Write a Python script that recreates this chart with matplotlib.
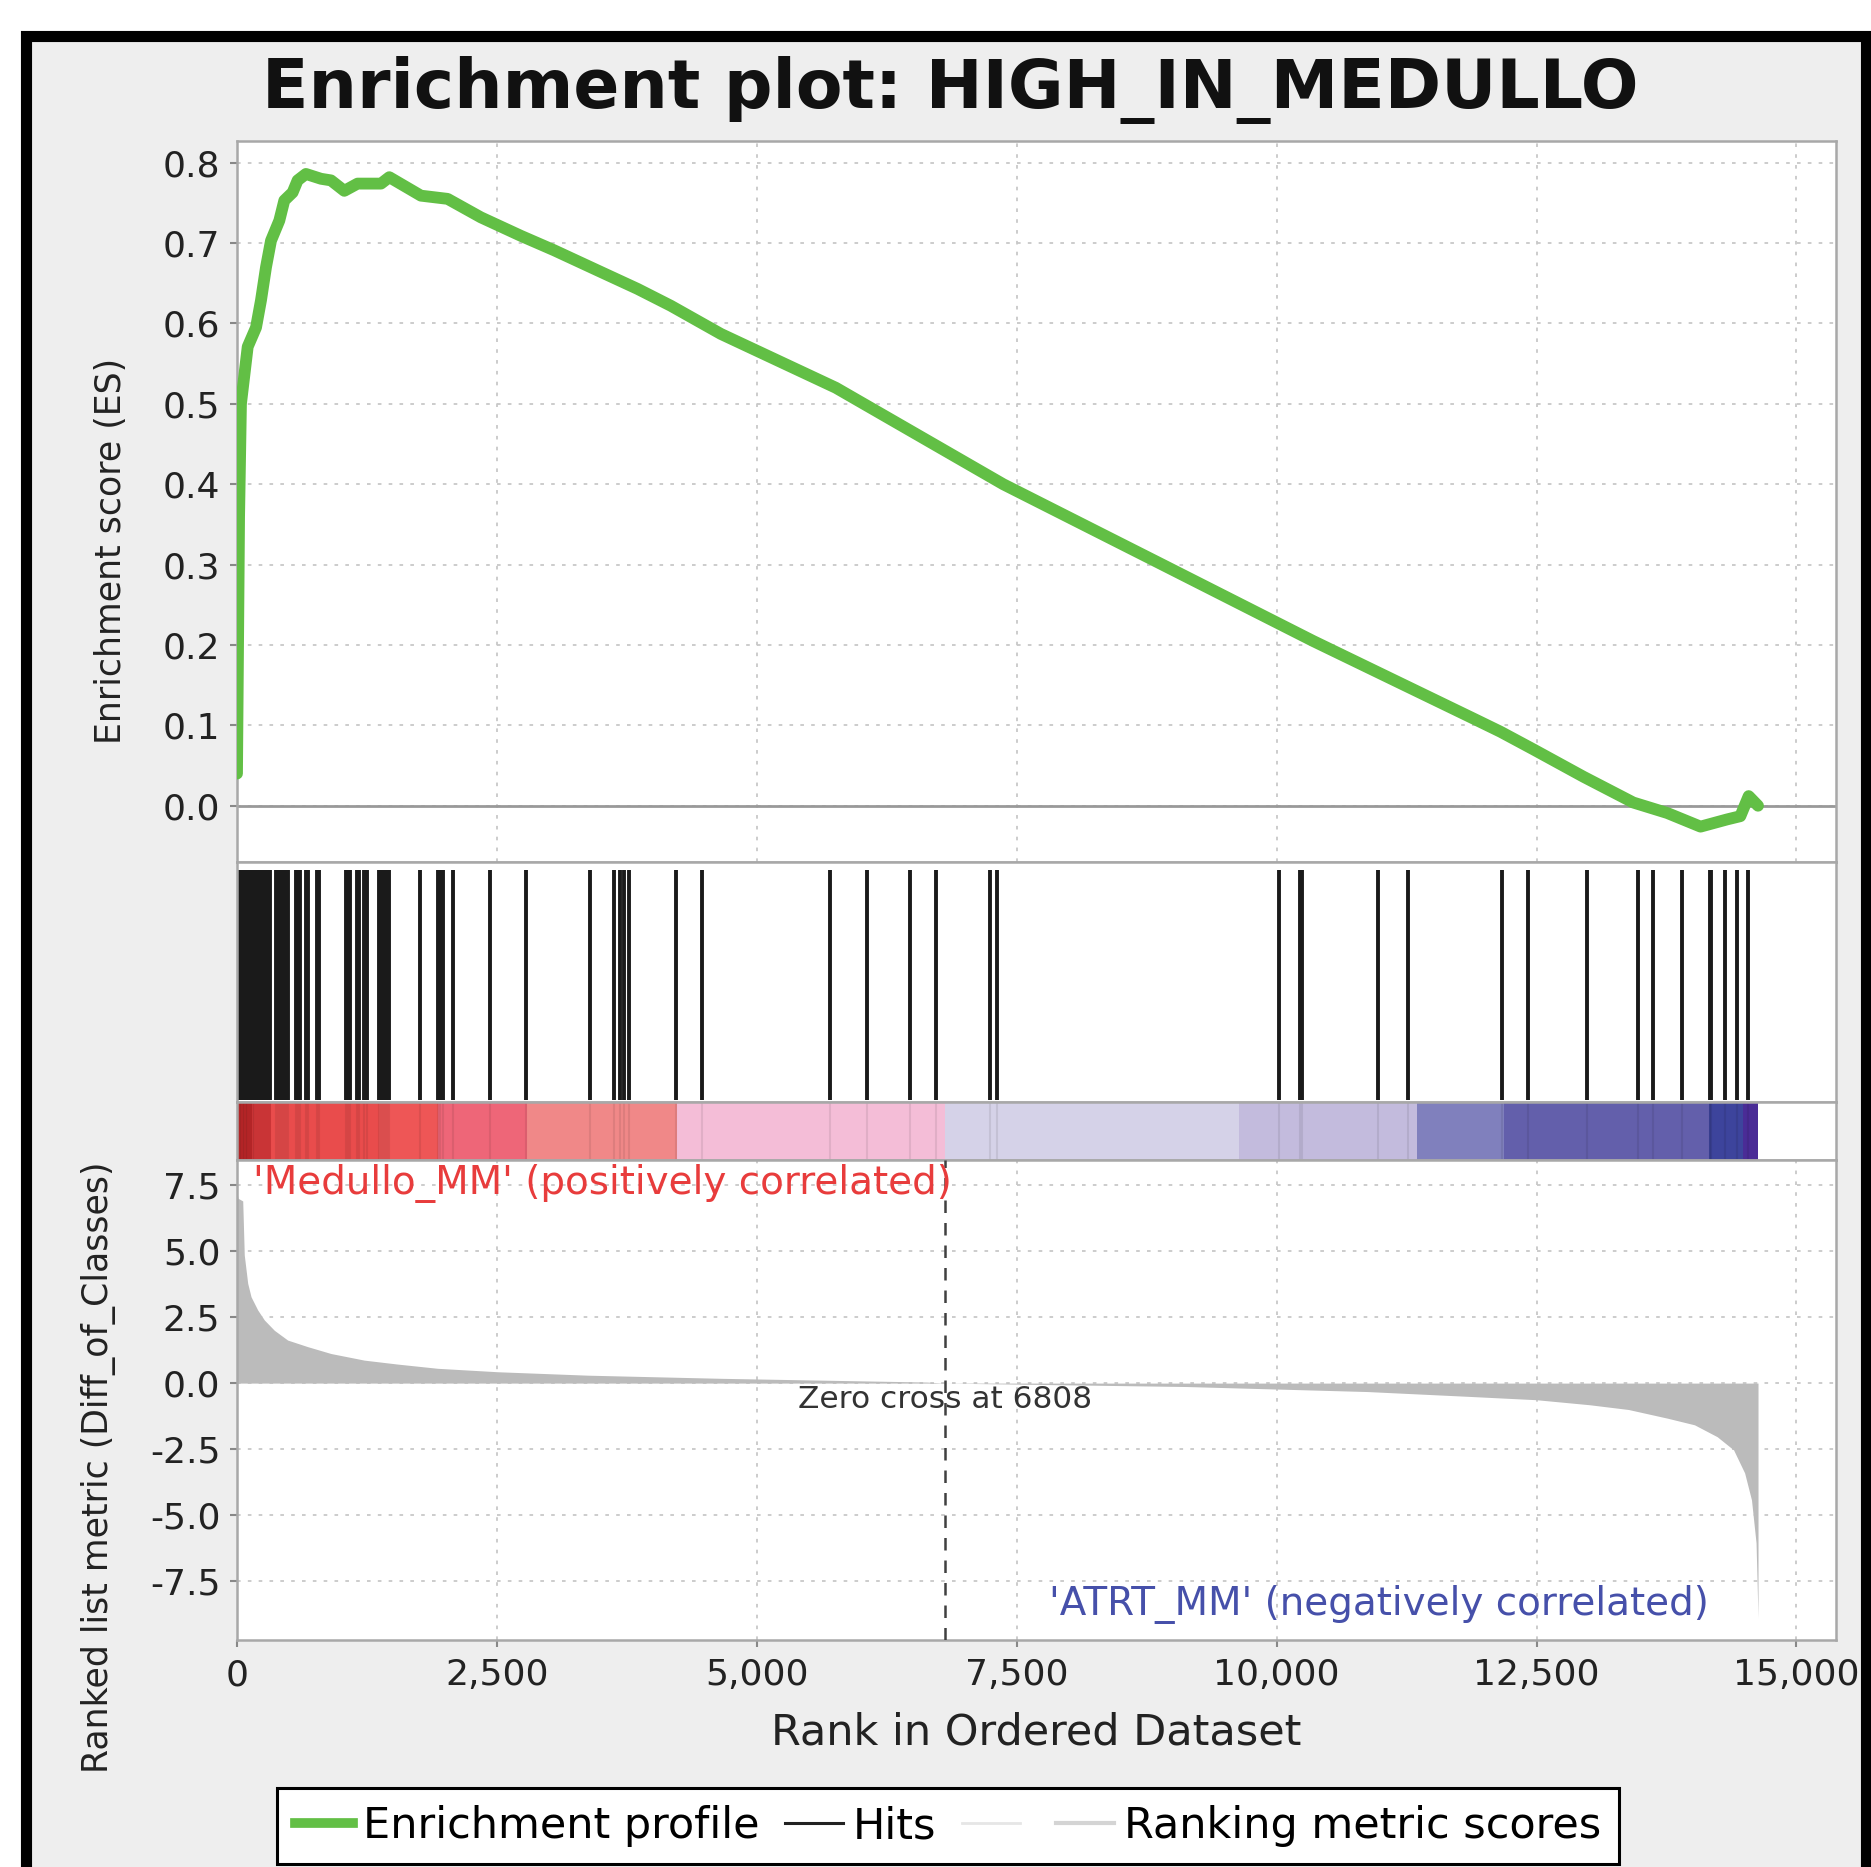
import numpy as np
import matplotlib
matplotlib.use("Agg")
import matplotlib.pyplot as plt
from matplotlib.patches import Rectangle
from matplotlib.lines import Line2D

# ---- datos ----
rank_es = [0, 20, 38, 103, 183, 231, 279, 327, 407, 455, 535, 583, 663, 808, 904,
           1032, 1160, 1385, 1465, 1769, 2026, 2346, 2731, 3051, 3468, 3853, 4173,
           4654, 5760, 7370, 8900, 10350, 11900, 12154, 12471, 12952, 13430, 13756,
           14077, 14333, 14460, 14540, 14630]
es = [0.04, 0.36, 0.50, 0.571, 0.595, 0.629, 0.670, 0.703, 0.728, 0.753, 0.763,
      0.778, 0.786, 0.780, 0.778, 0.765, 0.774, 0.774, 0.782, 0.759, 0.755, 0.732,
      0.709, 0.691, 0.666, 0.643, 0.622, 0.587, 0.52, 0.40, 0.30, 0.205, 0.108,
      0.092, 0.070, 0.036, 0.004, -0.009, -0.026, -0.017, -0.013, 0.012, 0.0]

hits = [0, 12, 25, 40, 55, 70, 85, 100, 118, 135, 150, 168, 185, 200, 220, 240,
        260, 280, 300, 320, 375, 395, 415, 435, 455, 475, 495, 567, 586, 606, 663,
        683, 770, 790, 1048, 1068, 1087, 1153, 1173, 1220, 1250, 1365, 1385, 1405,
        1425, 1445, 1462, 1760, 1933, 1955, 1980, 2077, 2433, 2778, 3394, 3625,
        3683, 3721, 3769, 4221, 4471, 5702, 6055, 6474, 6721, 7243, 7314, 10022,
        10224, 10240, 10974, 11262, 12170, 12416, 12981, 13474, 13622, 13901,
        14167, 14180, 14317, 14423, 14535]

rank_metric = [0, 10, 55, 70, 103, 135, 199, 263, 359, 487, 680, 904, 1224, 1545,
               1930, 2507, 3372, 4670, 6635, 6808, 9135, 10872, 11834, 12500, 13010,
               13384, 13760, 14019, 14237, 14395, 14501, 14567, 14611, 14630]
metric = [7.2, 7.0, 6.9, 4.85, 3.78, 3.27, 2.77, 2.39, 2.0, 1.63, 1.38, 1.12, 0.87,
          0.72, 0.56, 0.43, 0.30, 0.18, 0.04, 0.0, -0.13, -0.32, -0.5, -0.63, -0.82,
          -1.0, -1.33, -1.58, -2.03, -2.53, -3.4, -4.42, -6.05, -8.9]

band_start = [0, 140, 330, 1365, 1930, 2790, 4235, 6808, 9635, 11353, 12183, 14154, 14490]
band_end = [140, 330, 1365, 1930, 2790, 4235, 6808, 9635, 11353, 12183, 14154, 14490, 14630]
band_color = ["#c42a2c", "#dc3a3c", "#e94c4c", "#ee5656", "#ee6678", "#f08888",
              "#f4bdd7", "#d5d2e8", "#c3bbdd", "#8080bd", "#635fab", "#3d449c", "#4a2c96"]

zero_cross = 6808
xmax = 15380

verde = "#62bf45"
gris_borde = "#a8a8a8"
grid_kw = dict(color="#c8c8c8", linestyle=(0, (2, 4)), linewidth=1.3)

fig = plt.figure(figsize=(18.71, 18.67), dpi=100, facecolor="white")

# marco negro con fondo gris claro
fig.add_artist(Rectangle((0.0139, -0.05), 0.98343, 1.03045, transform=fig.transFigure,
                         facecolor="#eeeeee", edgecolor="black", linewidth=8, zorder=0))

left, width = 237 / 1871, (1836 - 237) / 1871
H = 1867
ax1 = fig.add_axes([left, 1 - 862 / H, width, (862 - 141) / H])
ax2 = fig.add_axes([left, 1 - 1102 / H, width, 240 / H])
ax3 = fig.add_axes([left, 1 - 1160 / H, width, 58 / H])
ax4 = fig.add_axes([left, 1 - 1640 / H, width, 480 / H])

for ax in (ax1, ax2, ax3, ax4):
    ax.set_facecolor("white")
    ax.set_xlim(0, xmax)
    for s in ax.spines.values():
        s.set_color(gris_borde)
        s.set_linewidth(1.8)
    ax.tick_params(colors="#222222", labelsize=26, length=5, width=1.5,
                   color="#888888", pad=7)

# Panel superior: perfil de enriquecimiento
ax1.set_ylim(-0.07, 0.827)
ax1.set_yticks(np.arange(0, 0.81, 0.1))
ax1.set_yticklabels([f"{v:.1f}" for v in np.arange(0, 0.81, 0.1)])
ax1.set_xticks([0, 2500, 5000, 7500, 10000, 12500, 15000])
ax1.tick_params(axis="x", length=0, labelbottom=False)
ax1.grid(True, **grid_kw)
ax1.set_axisbelow(True)
ax1.axhline(0, color="#999999", lw=2)
ax1.plot(rank_es, es, color=verde, lw=8.5, solid_capstyle="round",
         solid_joinstyle="round", zorder=3)

# Hits
ax2.set_ylim(0, 1)
ax2.set_xticks([])
ax2.set_yticks([])
ax2.vlines(hits, 0.01, 0.967, color="#1a1a1a", lw=2.8)

# Banda de colores
ax3.set_ylim(0, 1)
ax3.set_xticks([])
ax3.set_yticks([])
for a, b, c in zip(band_start, band_end, band_color):
    ax3.axvspan(a, b, color=c, lw=0)
ax3.vlines(hits, 0, 1, color="black", lw=1.5, alpha=0.08)

# Panel inferior: metrica
ax4.set_ylim(-9.73, 8.45)
yt = [7.5, 5.0, 2.5, 0.0, -2.5, -5.0, -7.5]
ax4.set_yticks(yt)
ax4.set_yticklabels([f"{v:.1f}" for v in yt])
ax4.set_xticks([0, 2500, 5000, 7500, 10000, 12500, 15000])
ax4.set_xticklabels(["0", "2,500", "5,000", "7,500", "10,000", "12,500", "15,000"])
ax4.tick_params(axis="x", pad=8)
ax4.grid(True, **grid_kw)
ax4.set_axisbelow(True)
ax4.fill_between(rank_metric, metric, 0, color="#bbbbbb", lw=0, zorder=2)
ax4.axvline(zero_cross, color="#404040", lw=1.8, linestyle=(0, (5, 4)), zorder=3)
ax4.text(zero_cross, -0.63, f"Zero cross at {zero_cross}", ha="center", va="center",
         fontsize=22.5, color="#333333", zorder=4)
ax4.text(150, 7.55, "'Medullo_MM' (positively correlated)", ha="left", va="center",
         fontsize=28, color="#e83c3c", zorder=4)
ax4.text(14158, -8.4, "'ATRT_MM' (negatively correlated)", ha="right", va="center",
         fontsize=28, color="#4650aa", zorder=4)

# Textos
fig.text(0.508, 0.952, "Enrichment plot: HIGH_IN_MEDULLO", ha="center", va="center",
         fontsize=49, fontweight="bold", color="#111111")
fig.text(0.0593, 0.7049, "Enrichment score (ES)", rotation=90, ha="center",
         va="center", fontsize=25, color="#222222")
fig.text(0.0529, 0.2139, "Ranked list metric (Diff_of_Classes)", rotation=90,
         ha="center", va="center", fontsize=25, color="#222222")
fig.text(0.5537, 0.0723, "Rank in Ordered Dataset", ha="center", va="center",
         fontsize=31, color="#222222")

# Leyenda
handles = [Line2D([], [], color=verde, lw=7),
           Line2D([], [], color="#222222", lw=2.2),
           Line2D([], [], color="#e6e6e6", lw=2),
           Line2D([], [], color="#d4d4d4", lw=3)]
labels = ["Enrichment profile", "Hits", "", "Ranking metric scores"]
leg = fig.legend(handles, labels, loc="upper center", bbox_to_anchor=(0.5067, 1 - 1788 / H),
                 ncol=4, fontsize=31, frameon=True, fancybox=False, handlelength=1.35,
                 handletextpad=0.23, columnspacing=0.6, borderpad=0.4, borderaxespad=0)
leg.get_frame().set_edgecolor("black")
leg.get_frame().set_linewidth(2.2)
leg.get_frame().set_facecolor("white")
leg.get_frame().set_alpha(1)

fig.savefig("out.png", dpi=100, facecolor="white")
